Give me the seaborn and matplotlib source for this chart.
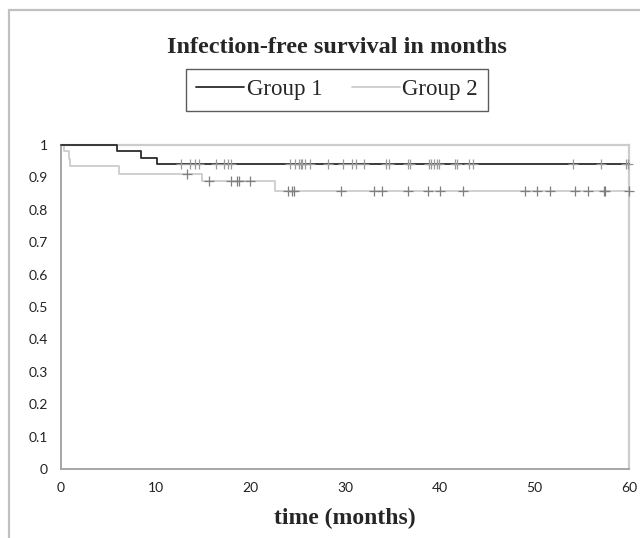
import numpy as np
import pandas as pd
import matplotlib
matplotlib.use("Agg")
import matplotlib.pyplot as plt
from matplotlib.lines import Line2D
import seaborn as sns

# -------------------------------
# Data
# -------------------------------
g1_times = [0, 5.9, 8.4, 10.1, 60]
g1_surv = [1.0, 0.98, 0.96, 0.94, 0.94]
g1_censor = [12.7, 13.6, 14.2, 14.6, 16.4, 17.2, 17.6, 18.0, 24.2, 24.7, 25.1,
             25.3, 25.5, 25.8, 26.3, 28.2, 29.8, 30.7, 31.2, 32.0, 34.3, 34.6,
             36.6, 36.9, 38.9, 39.1, 39.4, 39.7, 39.9, 41.6, 41.8, 43.1, 43.5,
             54.1, 57.0, 59.7, 59.9]

g2_times = [0, 0.3, 0.8, 1.0, 6.1, 14.9, 22.6, 60]
g2_surv = [1.0, 0.98, 0.957, 0.934, 0.911, 0.888, 0.859, 0.859]
g2_censor = [13.3, 15.6, 18.0, 18.6, 18.8, 20.0, 24.0, 24.4, 24.6, 29.6, 33.1,
             33.9, 36.7, 38.8, 40.0, 42.5, 49.0, 50.3, 51.6, 54.3, 55.7, 57.3,
             57.5, 60.0]

groups = ["Group 1", "Group 2"]
x_ticks = [0, 10, 20, 30, 40, 50, 60]
y_ticks = [0, 0.1, 0.2, 0.3, 0.4, 0.5, 0.6, 0.7, 0.8, 0.9, 1.0]
y_labels = ["0", "0.1", "0.2", "0.3", "0.4", "0.5", "0.6", "0.7", "0.8", "0.9", "1"]


def censor_frame(times, surv, censor, name):
    # survival level at each censor time from the step curve
    idx = np.searchsorted(times, censor, side="right") - 1
    return pd.DataFrame({"time": censor, "surv": np.array(surv)[idx], "group": name})


curves = pd.concat([
    pd.DataFrame({"time": g1_times, "surv": g1_surv, "group": groups[0]}),
    pd.DataFrame({"time": g2_times, "surv": g2_surv, "group": groups[1]}),
])
censors = pd.concat([
    censor_frame(g1_times, g1_surv, g1_censor, groups[0]),
    censor_frame(g2_times, g2_surv, g2_censor, groups[1]),
])

# -------------------------------
# Style
# -------------------------------
sns.set_style("white")
plt.rcParams["font.family"] = ["Lato", "DejaVu Sans"]

line_colors = {groups[0]: "#2b2b2b", groups[1]: "#cdcdcd"}
mark_colors = {groups[0]: "#9a9a9a", groups[1]: "#7f7f7f"}

fig = plt.figure(figsize=(6.4, 5.38), dpi=100)
ax = fig.add_axes([0.0953, 0.1283, 0.8877, 0.6022])

# group 2 first so the dark group 1 curve sits on top
for name, z in [(groups[1], 3), (groups[0], 4)]:
    sub = curves[curves["group"] == name]
    sns.lineplot(data=sub, x="time", y="surv", ax=ax, color=line_colors[name],
                 drawstyle="steps-post", linewidth=1.3, estimator=None,
                 sort=False, legend=False, clip_on=False, zorder=z)
for name in groups:
    sub = censors[censors["group"] == name]
    sns.scatterplot(data=sub, x="time", y="surv", ax=ax, marker="+", s=60,
                    color=mark_colors[name], linewidth=0.9, legend=False,
                    clip_on=False, zorder=5)

ax.set_xlim(0, 60)
ax.set_ylim(0, 1)
ax.set_xticks(x_ticks)
ax.set_yticks(y_ticks)
ax.set_yticklabels(y_labels)
ax.tick_params(axis="both", direction="inout", length=7, width=1,
               color="#a0a0a0", labelsize=10, labelcolor="#222222", pad=6)
ax.set_xlabel("time (months)", family=["Liberation Serif"], fontweight="bold",
              fontsize=17, labelpad=10)
ax.set_ylabel("")

for side in ["left", "bottom"]:
    ax.spines[side].set_color("#a6a6a6")
    ax.spines[side].set_linewidth(1.4)
for side in ["top", "right"]:
    ax.spines[side].set_color("#cccccc")
    ax.spines[side].set_linewidth(1.6)

fig.text(0.527, 0.912, "Infection-free survival in months", ha="center",
         va="center", family=["Liberation Serif"], fontweight="bold", fontsize=17.5)

handles = [Line2D([], [], color=line_colors[g], linewidth=1.3) for g in groups]
leg = fig.legend(handles, groups, loc="center", bbox_to_anchor=(0.5266, 0.8333),
                 ncol=2, frameon=True, fancybox=False, handlelength=2.1,
                 handletextpad=0.1, columnspacing=1.3, borderpad=0.45,
                 prop={"family": "Liberation Serif", "size": 16.5})
leg.get_frame().set_edgecolor("#333333")
leg.get_frame().set_linewidth(1.0)

# outer frame (top and left edges visible)
fig.add_artist(Line2D([0.0148, 1.0], [0.9805, 0.9805], transform=fig.transFigure,
                      color="#c0c0c0", linewidth=1.6))
fig.add_artist(Line2D([0.0148, 0.0148], [0.0, 0.9805], transform=fig.transFigure,
                      color="#c0c0c0", linewidth=1.6))

fig.savefig("out.png", dpi=100)
